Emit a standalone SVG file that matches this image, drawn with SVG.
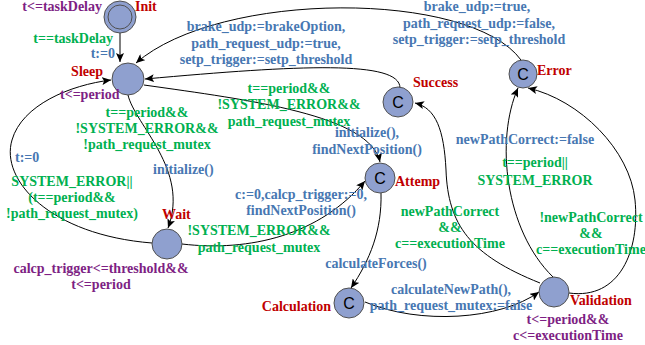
<svg xmlns="http://www.w3.org/2000/svg" width="645" height="345" viewBox="0 0 645 345">
  <style>
    text { font-family: "Liberation Serif", "Times New Roman", serif; font-weight: bold; font-size: 14px; }
    .name { fill: #C00000; }
    .upd { fill: #4777B2; }
    .grd { fill: #00B050; }
    .inv { fill: #7E1F84; }
    .mid { text-anchor: middle; }
    .end { text-anchor: end; }
    .loc { fill: #8FA0CF; stroke: #505050; stroke-width: 1; }
    .committed { font-family: "Liberation Sans", Arial, sans-serif; font-weight: normal; font-size: 16px; fill: #000; text-anchor: middle; }
    .edge { fill: none; stroke: #000; stroke-width: 1; marker-end: url(#arrow); }
  </style>
  <defs>
    <marker id="arrow" markerUnits="userSpaceOnUse" markerWidth="10" markerHeight="8" refX="9" refY="4" orient="auto">
      <path d="M0,0 L9,4 L0,8 L2,4 Z" fill="#000"/>
    </marker>
  </defs>

  <rect width="645" height="345" fill="#fff"/>

  <!-- transitions -->
  <g id="connectors">
    <path class="edge" d="M120 33 L120 62"/>
    <path class="edge" d="M521 60 C470 -10, 220 -10, 136 63"/>
    <path class="edge" d="M400 88 C400 60, 300 65, 145 79"/>
    <path class="edge" d="M144 85 C250 100, 370 115, 380 162"/>
    <path class="edge" d="M128 95 C135 125, 190 170, 168 228"/>
    <path class="edge" d="M152 243 C50 235, 0 180, 12 140 C22 105, 70 85, 111 80"/>
    <path class="edge" d="M182 244 C250 252, 320 235, 365 181"/>
    <path class="edge" d="M381 193 C382 230, 370 260, 351 288"/>
    <path class="edge" d="M365 302 C420 325, 500 320, 539 292"/>
    <path class="edge" d="M540 283 C470 255, 448 225, 446 170 C444 130, 436 108, 415 103"/>
    <path class="edge" d="M553 277 C505 230, 495 140, 518 88"/>
    <path class="edge" d="M569 293 C620 300, 640 250, 635 200 C630 150, 580 100, 528 88"/>
  </g>

  <!-- locations -->
  <g id="init">
    <circle class="loc" cx="120" cy="17" r="16"/>
    <circle class="loc" cx="120" cy="17" r="12"/>
    <text class="name" x="135" y="11">Init</text>
    <text class="inv end" x="102" y="11">t&lt;=taskDelay</text>
  </g>
  <g id="sleep">
    <circle class="loc" cx="128" cy="79" r="16"/>
    <text class="name end" x="103" y="76">Sleep</text>
    <text class="inv" x="60" y="99">t&lt;=period</text>
  </g>
  <g id="success">
    <circle class="loc" cx="398" cy="102" r="15"/>
    <text class="committed" x="398" y="108">C</text>
    <text class="name" x="413" y="87">Success</text>
  </g>
  <g id="error">
    <circle class="loc" cx="523" cy="74" r="14"/>
    <text class="committed" x="523" y="80">C</text>
    <text class="name" x="537" y="75">Error</text>
  </g>
  <g id="attemp">
    <circle class="loc" cx="380" cy="178" r="15"/>
    <text class="committed" x="380" y="184">C</text>
    <text class="name" x="395" y="186">Attemp</text>
  </g>
  <g id="wait">
    <circle class="loc" cx="167" cy="244" r="15"/>
    <text class="name" x="162" y="219">Wait</text>
    <text class="inv mid" x="101" y="273">calcp_trigger&lt;=threshold&amp;&amp;</text>
    <text class="inv mid" x="101" y="289">t&lt;=period</text>
  </g>
  <g id="calculation">
    <circle class="loc" cx="349" cy="303" r="15"/>
    <text class="committed" x="349" y="309">C</text>
    <text class="name end" x="331" y="311">Calculation</text>
  </g>
  <g id="validation">
    <circle class="loc" cx="554" cy="292" r="15"/>
    <text class="name" x="570" y="305">Validation</text>
    <text class="inv mid" x="568" y="324">t&lt;=period&amp;&amp;</text>
    <text class="inv mid" x="568" y="340">c&lt;=executionTime</text>
  </g>

  <!-- guards and updates -->
  <g id="edge-labels">
    <text class="grd end" x="113" y="43">t==taskDelay</text>
    <text class="upd end" x="115" y="58">t:=0</text>

    <text class="upd mid" x="266" y="31">brake_udp:=brakeOption,</text>
    <text class="upd mid" x="266" y="48">path_request_udp:=true,</text>
    <text class="upd mid" x="266" y="64">setp_trigger:=setp_threshold</text>

    <text class="upd mid" x="477" y="11">brake_udp:=true,</text>
    <text class="upd mid" x="479" y="28">path_request_udp:=false,</text>
    <text class="upd mid" x="479" y="44">setp_trigger:=setp_threshold</text>

    <text class="grd mid" x="289" y="93">t==period&amp;&amp;</text>
    <text class="grd mid" x="289" y="109">!SYSTEM_ERROR&amp;&amp;</text>
    <text class="grd mid" x="289" y="126">path_request_mutex</text>

    <text class="grd mid" x="147" y="117">t==period&amp;&amp;</text>
    <text class="grd mid" x="147" y="133">!SYSTEM_ERROR&amp;&amp;</text>
    <text class="grd mid" x="147" y="149">!path_request_mutex</text>
    <text class="upd" x="153" y="174">initialize()</text>

    <text class="upd" x="15" y="162">t:=0</text>
    <text class="grd mid" x="72" y="186">SYSTEM_ERROR||</text>
    <text class="grd mid" x="72" y="202">(t==period&amp;&amp;</text>
    <text class="grd mid" x="72" y="218">!path_request_mutex)</text>

    <text class="upd mid" x="367" y="137">initialize(),</text>
    <text class="upd mid" x="367" y="154">findNextPosition()</text>

    <text class="upd mid" x="301" y="199">c:=0,calcp_trigger:=0,</text>
    <text class="upd mid" x="301" y="215">findNextPosition()</text>
    <text class="grd mid" x="259" y="235">!SYSTEM_ERROR&amp;&amp;</text>
    <text class="grd mid" x="259" y="252">path_request_mutex</text>

    <text class="upd mid" x="376" y="268">calculateForces()</text>

    <text class="upd mid" x="451" y="294">calculateNewPath(),</text>
    <text class="upd mid" x="451" y="310">path_request_mutex:=false</text>

    <text class="upd mid" x="525" y="144">newPathCorrect:=false</text>
    <text class="grd mid" x="535" y="167">t==period||</text>
    <text class="grd mid" x="535" y="185">SYSTEM_ERROR</text>

    <text class="grd mid" x="450" y="216">newPathCorrect</text>
    <text class="grd mid" x="450" y="232">&amp;&amp;</text>
    <text class="grd mid" x="450" y="248">c==executionTime</text>

    <text class="grd mid" x="591" y="222">!newPathCorrect</text>
    <text class="grd mid" x="591" y="238">&amp;&amp;</text>
    <text class="grd mid" x="591" y="254">c==executionTime</text>
  </g>
</svg>
